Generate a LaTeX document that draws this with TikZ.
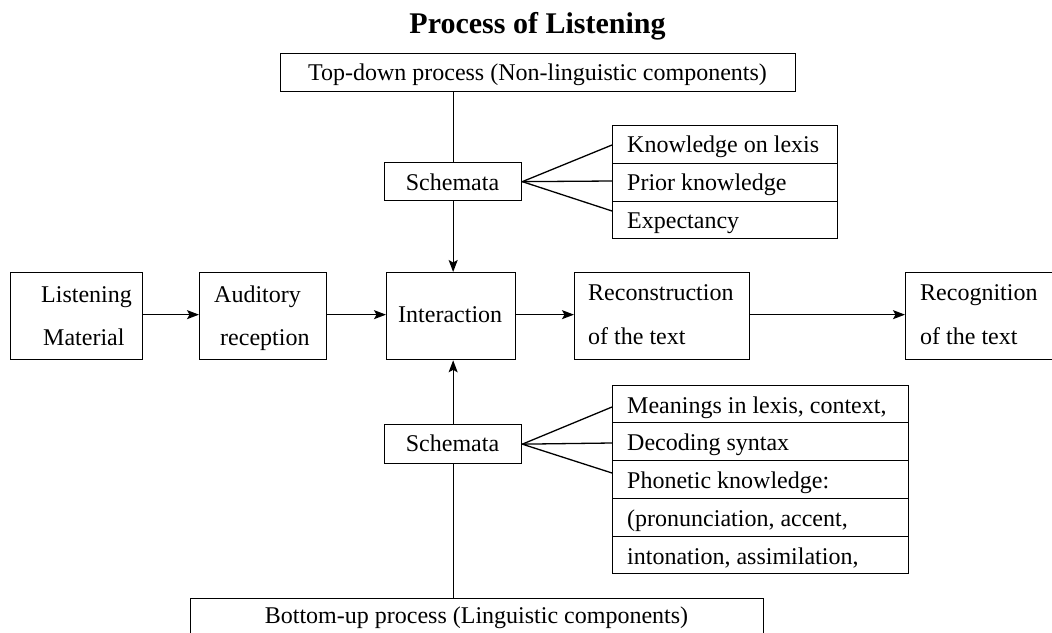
\documentclass[tikz,border=0pt]{standalone}
\usepackage{fontspec}
\setmainfont{Liberation Serif}
\usetikzlibrary{arrows.meta,calc}
\begin{document}
\begin{tikzpicture}[x=1pt,y=-1pt,
  box/.style={draw, line width=1.3pt, inner sep=0pt, anchor=north west},
  txt/.style={inner sep=0pt, anchor=base west, font=\fontsize{24}{28}\selectfont},
  ctxt/.style={inner sep=0pt, anchor=base, font=\fontsize{24}{28}\selectfont},
  ln/.style={line width=1.3pt},
  arr/.style={line width=1.3pt, -{Stealth[length=12pt,width=9pt,inset=2.5pt]}}]
\useasboundingbox (0,0) rectangle (1052,632);
\fill[white] (0,0) rectangle (1052,632);

% title
\node[inner sep=0pt, anchor=base, font=\fontsize{30}{34}\selectfont\bfseries] (title) at (537.5,33) {Process of Listening};

% top and bottom process boxes
\node[box, minimum width=515pt, minimum height=38pt] (top) at (280,53) {};
\node[ctxt] (toptxt) at (537.5,80) {Top-down process (Non-linguistic components)};
\node[box, minimum width=573pt, minimum height=50pt] (bot) at (190,598) {};
\node[ctxt] (bottxt) at (476.5,623) {Bottom-up process (Linguistic components)};

% main row
\node[box, minimum width=132pt, minimum height=87pt] (lm) at (10,272) {};
\node[txt] (lm1) at (41,302) {Listening};
\node[txt] (lm2) at (43,345) {Material};
\node[box, minimum width=127pt, minimum height=87pt] (ar) at (199,272) {};
\node[txt] (ar1) at (214,302) {Auditory};
\node[txt] (ar2) at (220,345) {reception};
\node[box, minimum width=129pt, minimum height=87pt] (ia) at (386,272) {};
\node[txt] (ia1) at (398,322) {Interaction};
\node[box, minimum width=175pt, minimum height=87pt] (rc) at (574,272) {};
\node[txt] (rc1) at (588,300) {Reconstruction};
\node[txt] (rc2) at (588,344) {of the text};
\node[box, minimum width=146.5pt, minimum height=87pt] (rg) at (905,272) {};
\node[txt] (rg1) at (920,300) {Recognition};
\node[txt] (rg2) at (920,344) {of the text};

% schemata boxes
\node[box, minimum width=137pt, minimum height=38pt] (s1) at (384,162) {};
\node[ctxt] (s1t) at (452.5,190) {Schemata};
\node[box, minimum width=137pt, minimum height=39pt] (s2) at (384,424) {};
\node[ctxt] (s2t) at (452.5,451) {Schemata};

% top list
\node[box, minimum width=225pt, minimum height=38pt] (k1) at (612,125) {};
\node[box, minimum width=225pt, minimum height=38pt] (k2) at (612,163) {};
\node[box, minimum width=225pt, minimum height=37pt] (k3) at (612,201) {};
\node[txt] (k1t) at (627,152) {Knowledge on lexis};
\node[txt] (k2t) at (627,190) {Prior knowledge};
\node[txt] (k3t) at (627,228) {Expectancy};

% bottom list
\node[box, minimum width=296pt, minimum height=37pt] (m1) at (612,385) {};
\node[box, minimum width=296pt, minimum height=38pt] (m2) at (612,422) {};
\node[box, minimum width=296pt, minimum height=38pt] (m3) at (612,460) {};
\node[box, minimum width=296pt, minimum height=38pt] (m4) at (612,498) {};
\node[box, minimum width=296pt, minimum height=37pt] (m5) at (612,536) {};
\node[txt] (m1t) at (627,413) {Meanings in lexis, context,};
\node[txt] (m2t) at (627,450) {Decoding syntax};
\node[txt] (m3t) at (627,488) {Phonetic knowledge:};
\node[txt] (m4t) at (627,526) {(pronunciation, accent,};
\node[txt] (m5t) at (627,564) {intonation, assimilation,};

% fan end points
\coordinate (ka) at (612,145);
\coordinate (kb) at (612,181);
\coordinate (kc) at (612,211);
\coordinate (ma) at (612,407);
\coordinate (mb) at (612,443);
\coordinate (mc) at (612,473);

% connectors
\draw[ln] (s1.north |- top.south) -- (s1.north);
\draw[arr] (s1.south) -- (s1.south |- ia.north);
\draw[ln] (s2.south |- bot.north) -- (s2.south);
\draw[arr] (s2.north) -- (s2.north |- ia.south);
\draw[ln] (s1.east) -- (ka);
\draw[ln] (s1.east) -- (kb);
\draw[ln] (s1.east) -- (kc);
\draw[ln] (s2.east) -- (ma);
\draw[ln] (s2.east) -- (mb);
\draw[ln] (s2.east) -- (mc);
\draw[arr] ([yshift=1.5pt]lm.east) -- ([yshift=1.5pt]ar.west);
\draw[arr] ([yshift=1.5pt]ar.east) -- ([yshift=1.5pt]ia.west);
\draw[arr] ([yshift=1.5pt]ia.east) -- ([yshift=1.5pt]rc.west);
\draw[arr] ([yshift=1.5pt]rc.east) -- ([yshift=1.5pt]rg.west);
\end{tikzpicture}
\end{document}
